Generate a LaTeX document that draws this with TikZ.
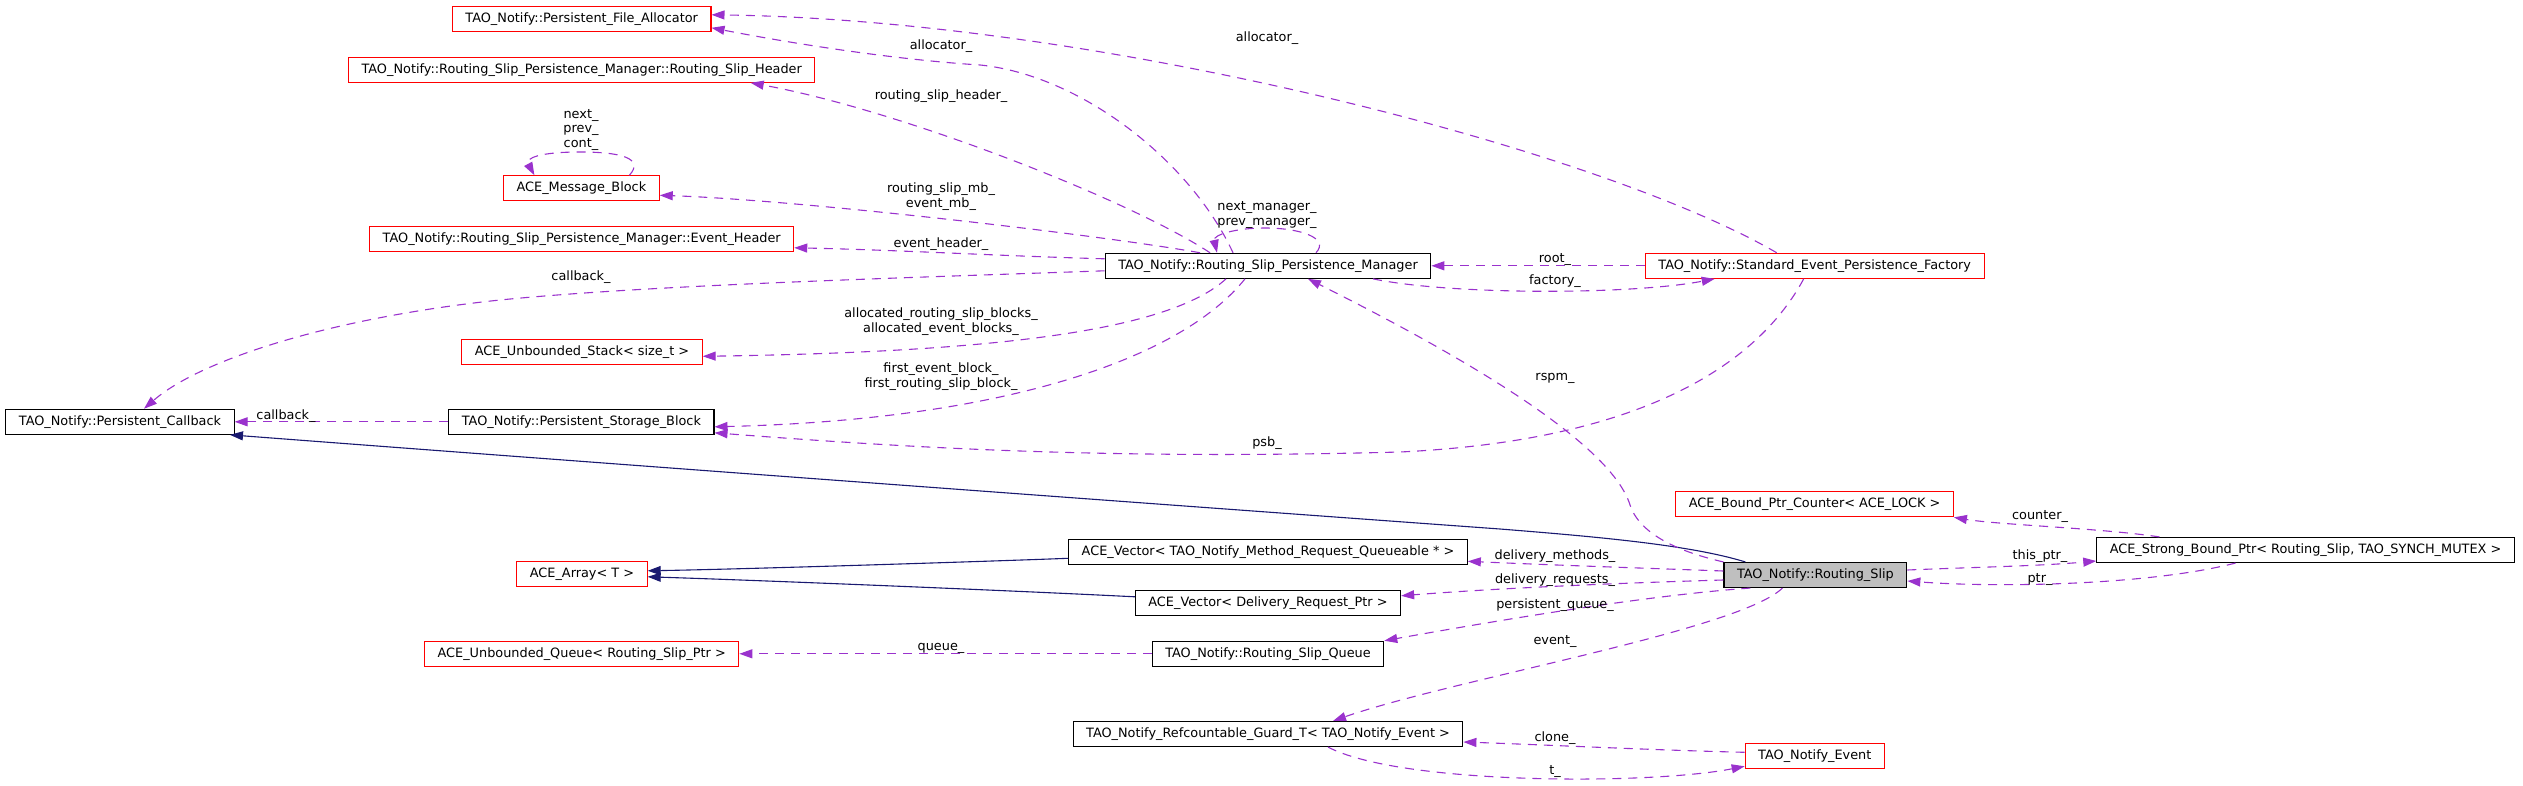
\documentclass[tikz,border=0pt]{standalone}
\usepackage{fontspec}
\setmainfont{DejaVu Sans}
\usetikzlibrary{arrows.meta}
\definecolor{edgepurple}{HTML}{9A32CD}
\definecolor{inhnavy}{HTML}{191970}
\definecolor{boxgray}{HTML}{BFBFBF}

\begin{document}
\begin{tikzpicture}[x=1pt,y=-1pt,
  font=\fontsize{12.85}{14.7}\selectfont,
  cls/.style={draw=black,line width=1.1pt,minimum height=25pt,inner xsep=13pt,inner ysep=0pt,text height=9.5pt,text depth=3pt},
  redcls/.style={cls,draw=red},
  maincls/.style={cls,fill=boxgray},
  uses/.style={draw=edgepurple,line width=1.1pt,dash pattern=on 9pt off 7pt,-{Triangle[length=13pt,width=9pt]}},
  inherits/.style={draw=inhnavy,line width=1.1pt,-{Triangle[length=13pt,width=9pt]}},
  lbl/.style={inner sep=0pt,align=center}]
\useasboundingbox (0,0) rectangle (2523,786);

\node[redcls] (alloc) at (581.7,18.8) {TAO\_Notify::Persistent\_File\_Allocator};
\node[redcls] (rshdr) at (581.7,69.8) {TAO\_Notify::Routing\_Slip\_Persistence\_Manager::Routing\_Slip\_Header};
\node[redcls] (msgblk) at (581.4,188.3) {ACE\_Message\_Block};
\node[redcls] (evhdr) at (581.7,238.8) {TAO\_Notify::Routing\_Slip\_Persistence\_Manager::Event\_Header};
\node[redcls] (ustack) at (582,352.3) {ACE\_Unbounded\_Stack< size\_t >};
\node[cls] (pcb) at (120,421.8) {TAO\_Notify::Persistent\_Callback};
\node[cls] (psblk) at (581.4,421.8) {TAO\_Notify::Persistent\_Storage\_Block};
\node[cls] (rspm) at (1268,265.8) {TAO\_Notify::Routing\_Slip\_Persistence\_Manager};
\node[redcls] (sepf) at (1814.7,265.8) {TAO\_Notify::Standard\_Event\_Persistence\_Factory};
\node[redcls] (counter) at (1814.6,504.3) {ACE\_Bound\_Ptr\_Counter< ACE\_LOCK >};
\node[cls] (sbptr) at (2305.5,550) {ACE\_Strong\_Bound\_Ptr< Routing\_Slip, TAO\_SYNCH\_MUTEX >};
\node[maincls] (rslip) at (1815.4,575) {TAO\_Notify::Routing\_Slip};
\node[redcls] (array) at (582,573.8) {ACE\_Array< T >};
\node[cls] (vecmr) at (1268,552.3) {ACE\_Vector< TAO\_Notify\_Method\_Request\_Queueable * >};
\node[cls] (vecdr) at (1268,602.8) {ACE\_Vector< Delivery\_Request\_Ptr >};
\node[redcls] (uqueue) at (581.7,653.8) {ACE\_Unbounded\_Queue< Routing\_Slip\_Ptr >};
\node[cls] (rsqueue) at (1268,653.8) {TAO\_Notify::Routing\_Slip\_Queue};
\node[cls] (guard) at (1268,734) {TAO\_Notify\_Refcountable\_Guard\_T< TAO\_Notify\_Event >};
\node[redcls] (event) at (1814.8,756.3) {TAO\_Notify\_Event};

\draw[uses] ([xshift=-35pt]rspm.north) .. controls (1190,160) and (1080,75) .. (980,65) .. controls (900,60) and (800,45) .. ([yshift=-9pt]alloc.east);
\draw[uses] ([xshift=-58pt]rspm.north) .. controls (1130,200) and (900,110) .. ([xshift=169pt]rshdr.south);
\draw[uses] ([xshift=-68pt]rspm.north) .. controls (1100,235) and (800,200) .. ([yshift=-7pt]msgblk.east);
\draw[uses] ([xshift=48pt]msgblk.north) .. controls (645,158) and (620,152) .. (580,152) .. controls (540,152) and (525,158) .. ([xshift=-47pt]msgblk.north);
\draw[uses] ([yshift=7pt]rspm.west) .. controls (1000,256) and (900,250) .. ([yshift=-9pt]evhdr.east);
\draw[uses] ([yshift=-5pt]rspm.west) .. controls (900,278) and (650,285) .. (500,300) .. controls (330,318) and (200,360) .. ([xshift=24pt]pcb.north);
\draw[uses] ([xshift=48pt]rspm.north) .. controls (1330,238) and (1300,228) .. (1265,228) .. controls (1235,228) and (1213,235) .. ([xshift=-51pt]rspm.north);
\draw[uses] (sepf.west) -- (rspm.east);
\draw[uses] ([xshift=105pt]rspm.south) .. controls (1450,295) and (1630,295) .. ([xshift=-100pt]sepf.south);
\draw[uses] ([xshift=-38pt]sepf.north) .. controls (1600,150) and (1100,20) .. ([yshift=4pt]alloc.east);
\draw[uses] ([xshift=-11pt]sepf.south) .. controls (1760,360) and (1650,440) .. (1400,452) .. controls (1100,460) and (900,447) .. ([yshift=-11pt]psblk.east);
\draw[uses] ([xshift=-42pt]rspm.south) .. controls (1170,330) and (1000,352) .. ([yshift=-4pt]ustack.east);
\draw[uses] ([xshift=-23pt]rspm.south) .. controls (1180,360) and (1000,420) .. ([yshift=-5pt]psblk.east);
\draw[uses] (psblk.west) -- (pcb.east);
\draw[inherits] ([xshift=-70pt]rslip.north) .. controls (1690,545) and (1600,537) .. (1500,529) .. controls (1100,500) and (600,463) .. ([xshift=110pt]pcb.south);
\draw[uses] (rslip.north west) .. controls (1680,552) and (1640,535) .. (1630,505) .. controls (1610,440) and (1450,350) .. ([xshift=40pt]rspm.south);
\draw[uses] ([yshift=4pt]rslip.west) .. controls (1640,568) and (1550,565) .. ([yshift=-9pt]vecmr.east);
\draw[uses] ([yshift=-5pt]rslip.west) .. controls (1620,583) and (1500,588) .. ([yshift=7pt]vecdr.east);
\draw[uses] ([xshift=-65pt]rslip.south) .. controls (1650,595) and (1500,620) .. (rsqueue.north east);
\draw[uses] ([xshift=-33pt]rslip.south) .. controls (1740,630) and (1450,680) .. ([xshift=65pt]guard.north);
\draw[uses] ([yshift=5pt]rslip.east) .. controls (1980,567) and (2040,566) .. ([yshift=-11pt]sbptr.west);
\draw[uses] ([xshift=-70pt]sbptr.south) .. controls (2150,585) and (2000,588) .. ([yshift=-6pt]rslip.east);
\draw[uses] ([xshift=-146pt]sbptr.north) .. controls (2100,528) and (2000,525) .. (counter.south east);
\draw[inherits] ([yshift=-6pt]vecmr.west) .. controls (1000,561) and (750,569) .. ([yshift=3pt]array.east);
\draw[inherits] ([yshift=6pt]vecdr.west) .. controls (1000,590) and (750,580) .. ([yshift=-3pt]array.east);
\draw[uses] (rsqueue.west) -- (uqueue.east);
\draw[uses] ([yshift=4pt]event.west) .. controls (1650,750) and (1550,745) .. ([yshift=-8pt]guard.east);
\draw[uses] ([xshift=60pt]guard.south) .. controls (1400,785) and (1650,785) .. ([yshift=-10pt]event.west);

\node[lbl] (l-alloc1) at (941,46) {allocator\_};
\node[lbl] (l-alloc2) at (1267,38) {allocator\_};
\node[lbl] (l-rshdr) at (941,96) {routing\_slip\_header\_};
\node[lbl] (l-mb) at (941,196.5) {routing\_slip\_mb\_\\event\_mb\_};
\node[lbl] (l-evhdr) at (941,244) {event\_header\_};
\node[lbl] (l-mgr) at (1267,215) {next\_manager\_\\prev\_manager\_};
\node[lbl] (l-msgloop) at (581,130) {next\_\\prev\_\\cont\_};
\node[lbl] (l-root) at (1555,260) {root\_};
\node[lbl] (l-factory) at (1555,281) {factory\_};
\node[lbl] (l-cb1) at (581,277) {callback\_};
\node[lbl] (l-blocks) at (941,321.5) {allocated\_routing\_slip\_blocks\_\\allocated\_event\_blocks\_};
\node[lbl] (l-first) at (941,376.5) {first\_event\_block\_\\first\_routing\_slip\_block\_};
\node[lbl] (l-rspm) at (1555,378) {rspm\_};
\node[lbl] (l-psb) at (1267,443) {psb\_};
\node[lbl] (l-cb2) at (286,416) {callback\_};
\node[lbl] (l-counter) at (2040,517) {counter\_};
\node[lbl] (l-thisptr) at (2040,556) {this\_ptr\_};
\node[lbl] (l-ptr) at (2040,579) {ptr\_};
\node[lbl] (l-dm) at (1555,556) {delivery\_methods\_};
\node[lbl] (l-dr) at (1555,580) {delivery\_requests\_};
\node[lbl] (l-pq) at (1555,605) {persistent\_queue\_};
\node[lbl] (l-ev) at (1555,641) {event\_};
\node[lbl] (l-queue) at (941,648) {queue\_};
\node[lbl] (l-clone) at (1555,738) {clone\_};
\node[lbl] (l-t) at (1555,771) {t\_};
\end{tikzpicture}
\end{document}
